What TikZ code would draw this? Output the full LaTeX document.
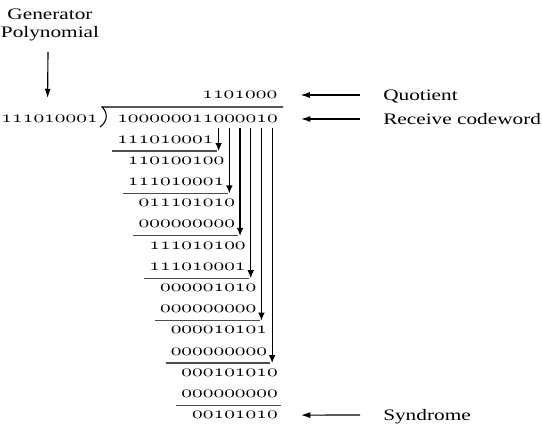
\documentclass[tikz,border=0pt]{standalone}
\usepackage{fontspec}
\setmainfont[FakeStretch=1.33]{Liberation Serif}
\usepackage{graphicx}
\usetikzlibrary{arrows.meta,calc}
\newcommand{\oldbits}[1]{\scalebox{1.605}[1.27]{\fontsize{10}{12}\usefont{OML}{cmm}{m}{it}#1}}

\begin{document}
\begin{tikzpicture}[x=0.75pt,y=-0.75pt,
  bits/.style={inner sep=0pt,anchor=west},
  note/.style={inner sep=0pt,anchor=west,text height=8pt,text depth=0pt,font=\fontsize{12}{13.5}\selectfont},
  pointer/.style={-{Latex[length=7pt,width=4.5pt]},line width=0.85pt},
  bring/.style={-{Latex[length=6pt,width=5pt]},line width=0.9pt},
  rule/.style={line width=0.8pt,black!70}]
  \useasboundingbox (0,0) rectangle (542,425);

  \node[align=center,inner sep=0pt,font=\fontsize{12}{13.5}\selectfont] (gen) at (50,24.5) {Generator\\Polynomial};
  \node[bits,anchor=east] (divisor) at (98,119) {\oldbits{111010001}};
  \node[bits] (dividend) at (117,119) {\oldbits{100000011000010}};
  \node[bits,anchor=east] (quot) at (277.5,95) {\oldbits{1101000}};
  \draw[line width=0.8pt] (283,107) -- (102,107) .. controls (108,113) and (108,121) .. (100,127);

  \foreach \val/\col [count=\k from 0] in {111010001/0,110100100/1,111010001/1,011101010/2,000000000/2,111010100/3,111010001/3,000001010/4,000000000/4,000010101/5,000000000/5,000101010/6,000000000/6,00101010/7}
    \node[bits] (r\k) at ({117+10.7*\col},{139.5+21.2*\k}) {\oldbits{\val}};

  \foreach \k in {0,2,...,12}
    \draw[rule] ($(r\k.west)+(-5,11.5)$) -- ($(r\k.east)+(3,11.5)$);

  \foreach \j in {0,...,5}{
    \coordinate (top\j) at ({122.35+10.7*(9+\j)},128);
    \coordinate (tip\j) at ({122.35+10.7*(9+\j)},{151+42.4*\j});
    \draw[bring] (top\j) -- (tip\j);
  }

  \node[note] (qlab) at (383,95) {Quotient};
  \node[note] (rlab) at (383,119) {Receive codeword};
  \node[note] (slab) at (383,415) {Syndrome};

  \draw[pointer] ($(gen.south)+(-2,11)$) -- ($(divisor.north)+(-2,-17)$);
  \draw[pointer] ($(qlab.west)+(-23,0)$) -- ($(quot.east)+(23,0)$);
  \draw[pointer] ($(rlab.west)+(-23,0)$) -- ($(dividend.east)+(23,0)$);
  \draw[pointer] ($(slab.west)+(-23,0)$) -- ($(r13.east)+(23,0)$);
\end{tikzpicture}
\end{document}
